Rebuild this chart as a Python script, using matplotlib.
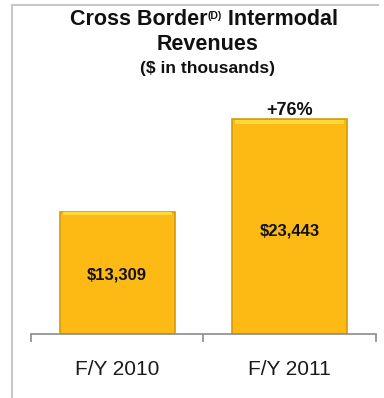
import matplotlib
matplotlib.use("Agg")
from matplotlib import pyplot as plt
from matplotlib.lines import Line2D

# === data ===
years = ["F/Y 2010", "F/Y 2011"]
revenues = [13309, 23443]
value_labels = ["$13,309", "$23,443"]

plt.rcParams['font.family'] = ['Liberation Sans', 'DejaVu Sans']

bar_color = '#FDBA14'
edge_color = '#D49A0C'

fig = plt.figure(figsize=(3.84, 3.98), dpi=100)
ax = fig.add_axes([0.0807, 0.1608, 0.898, 0.576])

x = list(range(len(years)))
ax.bar(x, revenues, width=0.665, color=bar_color, edgecolor=edge_color, linewidth=1.2, zorder=2)
# soft top highlight on each bar (bevel look)
ax.bar(x, [v * 0.022 for v in revenues], bottom=[v * 0.975 for v in revenues],
       width=0.63, color='#FFD83A', linewidth=0, zorder=3)

for xi, v, lab in zip(x, revenues, value_labels):
    ax.text(xi, v * 0.48, lab, ha='center', va='center', fontsize=12, fontweight='bold', color='#111111', zorder=4)

growth = (revenues[1] / revenues[0] - 1) * 100
ax.annotate(f"+{growth:.0f}%", (x[1], revenues[1]), xytext=(0, 0), textcoords='offset points',
            ha='center', va='bottom', fontsize=13, fontweight='bold', color='#111111')

ax.set_xlim(-0.5, 1.5)
ax.set_ylim(0, 25000)
ax.set_yticks([])
for s in ['top', 'right', 'left']:
    ax.spines[s].set_visible(False)
ax.spines['bottom'].set_color('#8C8C8C')
ax.spines['bottom'].set_linewidth(1.2)

ax.set_xticks(x)
ax.set_xticklabels(years, fontsize=15, color='#1A1A1A')
ax.tick_params(axis='x', which='major', length=0, pad=19)
ax.set_xticks([-0.5, 0.5, 1.5], minor=True)
ax.tick_params(axis='x', which='minor', length=5.5, width=1.2, color='#8C8C8C')

# title, first line built from pieces so the (D) can be a small superscript
t1 = fig.text(0.182, 0.95, "Cross Border", ha='left', va='center', fontsize=15.5, fontweight='bold', color='#111111')
t_sup = ax.annotate("(D)", xy=(1.0, 0.93), xycoords=t1, ha='left', va='top', annotation_clip=False,
                    fontsize=7.5, fontweight='bold', color='#111111')
ax.annotate(" Intermodal", xy=(1.0, 0.5), xycoords=(t_sup, t1), ha='left', va='center', annotation_clip=False,
            fontsize=15.5, fontweight='bold', color='#111111')
fig.text(0.54, 0.887, "Revenues", ha='center', va='center', fontsize=15.5, fontweight='bold', color='#111111')
fig.text(0.54, 0.827, "($ in thousands)", ha='center', va='center', fontsize=12.5, fontweight='bold', color='#111111')

# panel border (left and top)
fig.add_artist(Line2D([0.03125, 0.03125], [0.0, 0.987], color='#C8C8C8', lw=1.5))
fig.add_artist(Line2D([0.03125, 0.984], [0.987, 0.987], color='#C8C8C8', lw=1.5))

fig.savefig("out.png", dpi=100)
